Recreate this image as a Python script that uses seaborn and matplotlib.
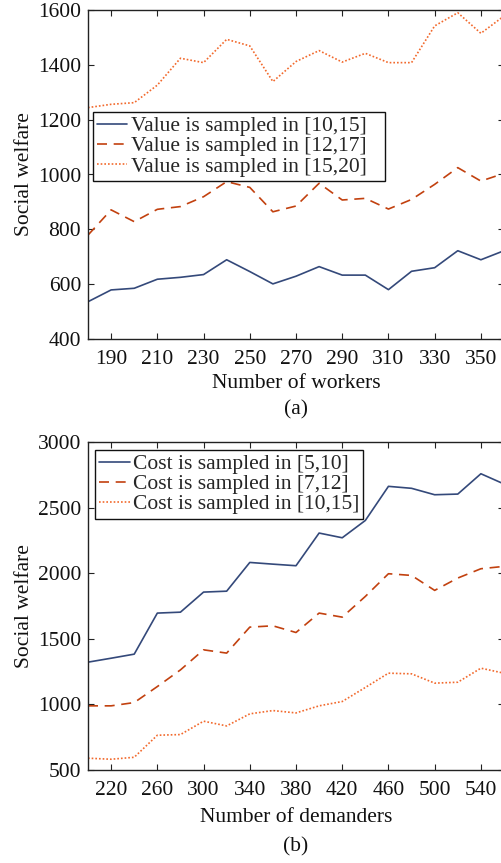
import numpy as np
import pandas as pd
import seaborn as sns
import matplotlib
matplotlib.use("Agg")
import matplotlib.pyplot as plt
from matplotlib.lines import Line2D

# ---- data (a) ----
workers = [180, 190, 200, 210, 220, 230, 240, 250, 260, 270, 280, 290, 300, 310, 320, 330, 340, 350, 360]
value_10_15 = [536, 579, 585, 618, 625, 635, 689, 646, 601, 629, 664, 633, 633, 580, 647, 660, 722, 689, 722]
value_12_17 = [779, 871, 828, 873, 883, 919, 974, 953, 864, 885, 968, 907, 913, 874, 909, 964, 1025, 976, 1004]
value_15_20 = [1244, 1256, 1262, 1326, 1424, 1408, 1493, 1469, 1339, 1412, 1452, 1410, 1442, 1408, 1408, 1542, 1590, 1515, 1578]
labels_a = ["Value is sampled in [10,15]", "Value is sampled in [12,17]", "Value is sampled in [15,20]"]

# ---- data (b) ----
demanders = [200, 220, 240, 260, 280, 300, 320, 340, 360, 380, 400, 420, 440, 460, 480, 500, 520, 540, 560]
cost_5_10 = [1322, 1352, 1383, 1696, 1703, 1856, 1863, 2082, 2069, 2057, 2306, 2270, 2402, 2662, 2647, 2598, 2603, 2758, 2680]
cost_7_12 = [989, 989, 1014, 1136, 1263, 1416, 1391, 1589, 1599, 1548, 1696, 1665, 1823, 1996, 1983, 1869, 1963, 2034, 2052]
cost_10_15 = [590, 582, 597, 765, 770, 872, 836, 928, 953, 935, 989, 1022, 1129, 1238, 1233, 1162, 1169, 1276, 1238]
labels_b = ["Cost is sampled in [5,10]", "Cost is sampled in [7,12]", "Cost is sampled in [10,15]"]

xticks_a = [190, 210, 230, 250, 270, 290, 310, 330, 350]
yticks_a = [400, 600, 800, 1000, 1200, 1400, 1600]
xticks_b = [220, 260, 300, 340, 380, 420, 460, 500, 540]
yticks_b = [500, 1000, 1500, 2000, 2500, 3000]

colors = ["#34497A", "#C2410F", "#F2692C"]
dash_styles = [(None, None), (6, 4), (1, 1.2)]

sns.set_style("ticks")
plt.rcParams["font.family"] = ["Liberation Serif", "DejaVu Serif"]
plt.rcParams["axes.linewidth"] = 1.0

W, H = 502, 863
fig = plt.figure(figsize=(W / 100, H / 100), dpi=100)

FS = 15.5


def panel(ax, x, series, labels, xlabel, tag, xlim, ylim, xticks, yticks,
          leg_bbox, leg_mode, xlabel_y, tag_y):
    df = pd.concat([pd.DataFrame({"x": x, "y": s, "series": lab}) for s, lab in zip(series, labels)])
    sns.lineplot(data=df, x="x", y="y", hue="series", style="series",
                 palette=dict(zip(labels, colors)),
                 dashes=dict(zip(labels, [""] + [d for d in dash_styles[1:]])),
                 linewidth=1.2, ax=ax, legend=False)
    ax.set_xlim(*xlim)
    ax.set_ylim(*ylim)
    ax.set_xticks(xticks)
    ax.set_yticks(yticks)
    ax.tick_params(axis="both", which="both", direction="in", top=True, right=True,
                   length=4, width=0.8, labelsize=FS, colors="#222222")
    ax.tick_params(axis="x", pad=8)
    ax.tick_params(axis="y", pad=5)
    ax.tick_params(axis="both", labelcolor="#111111")
    for sp in ax.spines.values():
        sp.set_visible(True)
        sp.set_color("#222222")
    ax.set_xlabel(xlabel, fontsize=FS, color="#111111")
    ax.xaxis.set_label_coords(0.5, xlabel_y)
    ax.xaxis.label.set_va("center")
    ax.text(0.5, tag_y, tag, transform=ax.transAxes, ha="center", va="center",
            fontsize=FS, color="#111111")
    ax.set_ylabel("Social welfare", fontsize=FS, labelpad=3, color="#111111")
    handles = []
    for c, d, lab in zip(colors, dash_styles, labels):
        ls = "-" if d[0] is None else (0, d)
        handles.append(Line2D([0], [0], color=c, lw=1.2, linestyle=ls, label=lab))
    leg = ax.legend(handles=handles, loc="upper left", bbox_to_anchor=leg_bbox, mode=leg_mode,
                    borderaxespad=0, fontsize=FS, frameon=True, fancybox=False,
                    edgecolor="#111111", framealpha=1, handlelength=1.4,
                    handletextpad=0.15, labelspacing=0.0, borderpad=0.2)
    leg.get_frame().set_linewidth(1.0)


axL = 88 / W
axW = 416 / W
ax1 = fig.add_axes([axL, (H - 339) / H, axW, 329 / H])
ax2 = fig.add_axes([axL, (H - 770) / H, axW, 328 / H])

panel(ax1, workers, [value_10_15, value_12_17, value_15_20], labels_a,
      "Number of workers", "(a)", (180, 360), (400, 1600), xticks_a, yticks_a,
      (0.012, 0.69 - 0.2, 0.702, 0.2), "expand", -0.134, -0.216)
panel(ax2, demanders, [cost_5_10, cost_7_12, cost_10_15], labels_b,
      "Number of demanders", "(b)", (200, 560), (500, 3000), xticks_b, yticks_b,
      (0.017, 0.976), None, -0.146, -0.235)

fig.savefig("out.png", dpi=100)
